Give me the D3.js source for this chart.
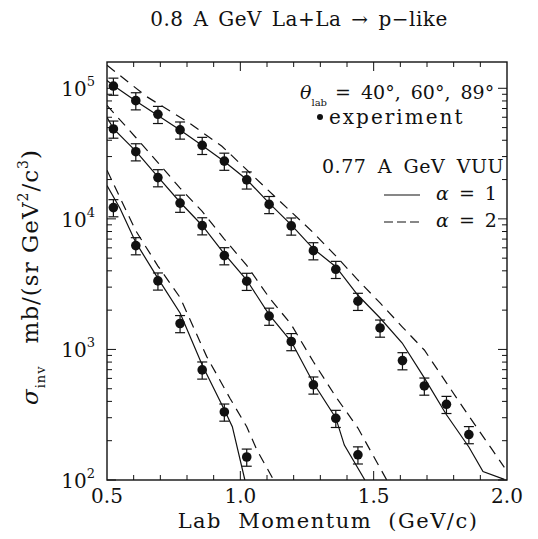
<!DOCTYPE html>
<html>
<head>
  <meta charset="utf-8">
  <script src="https://d3js.org/d3.v7.min.js"></script>
  <style>
    body { margin: 0; background: #fff; }
    text { font-family: "DejaVu Serif", serif; fill: #111; }
  </style>
</head>
<body>
<script type="text/javascript">
  // experimental points (GeV/c, mb/(sr GeV^2/c^3))
  var pExp = [0.524, 0.608, 0.691, 0.774, 0.857, 0.940, 1.024, 1.108, 1.191,
              1.274, 1.358, 1.441, 1.524, 1.608, 1.690, 1.773, 1.857];
  var exp40 = [1.04e5, 8.04e4, 6.32e4, 4.80e4, 3.66e4, 2.77e4, 1.99e4, 1.29e4, 8.83e3,
               5.71e3, 4.11e3, 2.34e3, 1.46e3, 821, 525, 380, 223];
  var exp60 = [4.88e4, 3.27e4, 2.07e4, 1.32e4, 8.87e3, 5.23e3, 3.33e3, 1.80e3, 1.15e3,
               535, 297, 156];
  var exp89 = [1.22e4, 6.24e3, 3.35e3, 1.58e3, 697, 332, 150];
  var errFrac = 0.15;

  // VUU curves, alpha = 1 (solid) and alpha = 2 (dashed)
  var p40a1 = [0.5, 0.524, 0.608, 0.691, 0.774, 0.857, 0.940, 1.024, 1.108, 1.191,
               1.274, 1.358, 1.441, 1.524, 1.607, 1.690, 1.773, 1.857, 1.91, 1.99];
  var s40a1 = [1.15e5, 1.05e5, 8.0e4, 6.2e4, 4.8e4, 3.65e4, 2.75e4, 2.0e4, 1.32e4, 9.0e3,
               5.9e3, 4.3e3, 2.6e3, 1.74e3, 1.12e3, 605, 316, 179, 116, 101];
  var p40a2 = [0.5, 0.65, 0.804, 0.931, 1.104, 1.272, 1.358, 1.441, 1.524, 1.607,
               1.690, 1.773, 1.857, 1.94, 1.99];
  var s40a2 = [1.5e5, 8.6e4, 5.5e4, 3.6e4, 1.66e4, 7.9e3, 5.2e3, 3.4e3, 2.27e3, 1.49e3,
               990, 554, 309, 176, 125];
  var p60a1 = [0.5, 0.524, 0.608, 0.691, 0.774, 0.857, 0.940, 1.024, 1.108, 1.191,
               1.274, 1.358, 1.39, 1.467];
  var s60a1 = [6.0e4, 4.9e4, 3.3e4, 2.1e4, 1.34e4, 8.9e3, 5.4e3, 3.4e3, 1.85e3, 1.15e3,
               553, 299, 185, 100];
  var p60a2 = [0.5, 0.608, 0.691, 0.774, 0.857, 0.940, 1.024, 1.108, 1.191, 1.274,
               1.358, 1.441, 1.549];
  var s60a2 = [7.4e4, 4.2e4, 2.7e4, 1.72e4, 1.14e4, 7.0e3, 4.4e3, 2.5e3, 1.55e3, 804,
               434, 250, 100];
  var p89a1 = [0.5, 0.549, 0.608, 0.691, 0.774, 0.857, 0.940, 0.97, 1.017];
  var s89a1 = [1.8e4, 1.2e4, 6.6e3, 3.5e3, 1.9e3, 760, 345, 256, 100];
  var p89a2 = [0.5, 0.608, 0.691, 0.774, 0.874, 0.961, 1.024, 1.062, 1.118, 1.124];
  var s89a2 = [2.36e4, 8.1e3, 4.35e3, 2.5e3, 881, 423, 256, 170, 106, 100];

  var xTicks = [0.5, 1.0, 1.5, 2.0];
  var yDecades = [1e2, 1e3, 1e4, 1e5];

  var width = 538, height = 539;
  var pL = 107, pR = 507, pT = 62, pB = 480;

  var svg = d3.select("body").append("svg")
      .attr("width", width)
      .attr("height", height);

  var x = d3.scaleLinear().domain([0.5, 2.0]).range([pL, pR]);
  var y = d3.scaleLog().domain([100, 1.59e5]).range([pB, pT]);

  // title
  svg.append("text")
      .attr("x", 299).attr("y", 26)
      .attr("text-anchor", "middle")
      .style("font-size", "20px")
      .style("letter-spacing", "0.5px")
      .style("word-spacing", "3px")
      .text("0.8 A GeV La+La \u2192 p\u2212like");

  svg.append("clipPath").attr("id", "clip")
    .append("rect")
      .attr("x", pL).attr("y", pT)
      .attr("width", pR - pL).attr("height", pB - pT);

  var plot = svg.append("g").attr("clip-path", "url(#clip)");

  var line = d3.line()
      .x(function (d) { return x(d[0]); })
      .y(function (d) { return y(d[1]); });

  var curves = [
    [p40a1, s40a1, false], [p40a2, s40a2, true],
    [p60a1, s60a1, false], [p60a2, s60a2, true],
    [p89a1, s89a1, false], [p89a2, s89a2, true]
  ];
  curves.forEach(function (c) {
    plot.append("path")
        .datum(d3.zip(c[0], c[1]))
        .attr("d", line)
        .attr("fill", "none")
        .attr("stroke", "#111")
        .attr("stroke-width", 1.2)
        .attr("stroke-dasharray", c[2] ? "10,7" : null);
  });

  // data points with error bars
  [exp40, exp60, exp89].forEach(function (vals) {
    var pts = d3.zip(pExp.slice(0, vals.length), vals);
    var g = svg.append("g");
    pts.forEach(function (d) {
      var cx = x(d[0]),
          y1 = y(d[1] * (1 + errFrac)),
          y2 = y(d[1] * (1 - errFrac));
      g.append("line").attr("x1", cx).attr("x2", cx).attr("y1", y1).attr("y2", y2)
          .attr("stroke", "#111").attr("stroke-width", 1.2);
      g.append("line").attr("x1", cx - 5).attr("x2", cx + 5).attr("y1", y1).attr("y2", y1)
          .attr("stroke", "#111").attr("stroke-width", 1.2);
      g.append("line").attr("x1", cx - 5).attr("x2", cx + 5).attr("y1", y2).attr("y2", y2)
          .attr("stroke", "#111").attr("stroke-width", 1.2);
      g.append("circle").attr("cx", cx).attr("cy", y(d[1])).attr("r", 4.8)
          .attr("fill", "#111");
    });
  });

  // frame and inward ticks
  svg.append("rect")
      .attr("x", pL).attr("y", pT)
      .attr("width", pR - pL).attr("height", pB - pT)
      .attr("fill", "none").attr("stroke", "#111").attr("stroke-width", 1.4);

  var xMinor = d3.range(6, 20).map(function (i) { return i / 10; });
  xMinor.forEach(function (v) {
    var major = Math.abs(v * 2 - Math.round(v * 2)) < 1e-6;
    var len = major ? 9 : 5;
    svg.append("line").attr("x1", x(v)).attr("x2", x(v))
        .attr("y1", pB).attr("y2", pB - len).attr("stroke", "#111");
    svg.append("line").attr("x1", x(v)).attr("x2", x(v))
        .attr("y1", pT).attr("y2", pT + len).attr("stroke", "#111");
  });

  var yMinor = [];
  yDecades.forEach(function (dec) {
    for (var k = 1; k < 10; k++) {
      if (dec * k <= 1.59e5) yMinor.push([dec * k, k === 1]);
    }
  });
  yMinor.forEach(function (t) {
    var len = t[1] ? 9 : 5;
    svg.append("line").attr("x1", pL).attr("x2", pL + len)
        .attr("y1", y(t[0])).attr("y2", y(t[0])).attr("stroke", "#111");
    svg.append("line").attr("x1", pR).attr("x2", pR - len)
        .attr("y1", y(t[0])).attr("y2", y(t[0])).attr("stroke", "#111");
  });

  // tick labels
  svg.selectAll(".xlab").data(xTicks).enter().append("text")
      .attr("x", function (d) { return x(d); })
      .attr("y", 503)
      .attr("text-anchor", "middle")
      .style("font-size", "20px")
      .text(function (d) { return d.toFixed(1); });

  var ylab = svg.selectAll(".ylab").data(yDecades).enter().append("text")
      .attr("x", pL - 12)
      .attr("y", function (d) { return y(d) + 8; })
      .attr("text-anchor", "end")
      .style("font-size", "20px");
  ylab.append("tspan").text("10");
  ylab.append("tspan")
      .attr("dy", -10)
      .style("font-size", "13px")
      .text(function (d) { return Math.round(Math.log10(d)); });

  // axis titles
  svg.append("text")
      .attr("x", 328).attr("y", 528)
      .attr("text-anchor", "middle")
      .style("font-size", "21px")
      .style("letter-spacing", "1.5px")
      .style("word-spacing", "8px")
      .text("Lab Momentum (GeV/c)");

  var yt = svg.append("text")
      .attr("transform", "translate(38,277) rotate(-90)")
      .attr("text-anchor", "middle")
      .style("font-size", "23px")
      .style("letter-spacing", "1px");
  yt.append("tspan").style("font-style", "italic").text("\u03c3");
  yt.append("tspan").attr("dy", 7).style("font-size", "13px").text("inv");
  yt.append("tspan").attr("dy", -7).attr("dx", 22).text("mb/(sr GeV");
  yt.append("tspan").attr("dy", -10).style("font-size", "14px").text("2");
  yt.append("tspan").attr("dy", 10).text("/c");
  yt.append("tspan").attr("dy", -10).style("font-size", "14px").text("3");
  yt.append("tspan").attr("dy", 10).text(")");

  // legend block
  var lg = svg.append("g");
  var t1 = lg.append("text").attr("x", 300).attr("y", 99).style("font-size", "19px");
  t1.append("tspan").style("font-style", "italic").text("\u03b8");
  t1.append("tspan").attr("dy", 7).style("font-size", "10px").text("lab");
  t1.append("tspan").attr("dy", -7).attr("dx", 8)
      .style("word-spacing", "4px")
      .text("= 40\u00b0, 60\u00b0, 89\u00b0");

  lg.append("circle").attr("cx", 320).attr("cy", 117).attr("r", 3).attr("fill", "#111");
  lg.append("text").attr("x", 329).attr("y", 124).style("font-size", "20px")
      .style("letter-spacing", "2px")
      .text("experiment");

  lg.append("text").attr("x", 322).attr("y", 173).style("font-size", "19px")
      .style("letter-spacing", "0.5px")
      .style("word-spacing", "5px")
      .text("0.77 A GeV VUU");

  lg.append("line").attr("x1", 384).attr("x2", 420).attr("y1", 195).attr("y2", 195)
      .attr("stroke", "#111").attr("stroke-width", 1.2);
  lg.append("line").attr("x1", 384).attr("x2", 420).attr("y1", 222).attr("y2", 222)
      .attr("stroke", "#111").attr("stroke-width", 1.2)
      .attr("stroke-dasharray", "9,4");
  [["1", 200], ["2", 227]].forEach(function (r) {
    var tt = lg.append("text").attr("x", 436).attr("y", r[1]).style("font-size", "19px");
    tt.append("tspan").style("font-style", "italic").text("\u03b1");
    tt.append("tspan").style("word-spacing", "4px").text(" = " + r[0]);
  });
</script>
</body>
</html>
